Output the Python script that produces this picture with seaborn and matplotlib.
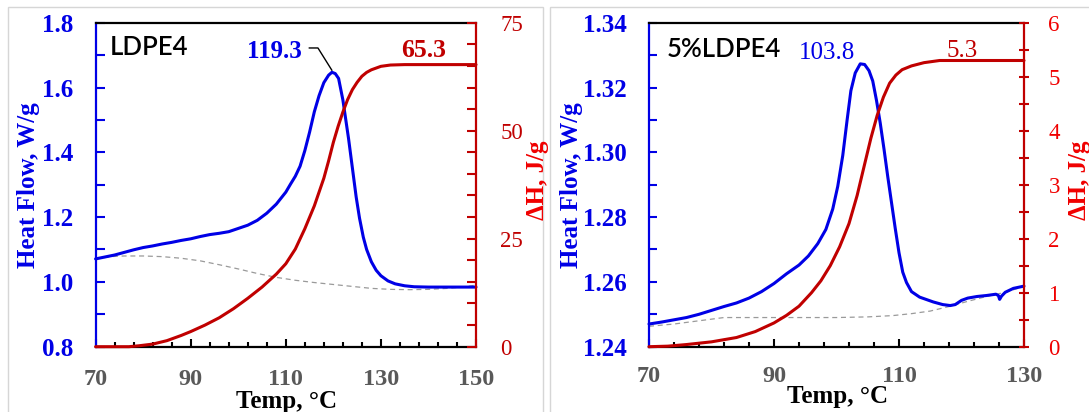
import numpy as np
import pandas as pd
import matplotlib
matplotlib.use("Agg")
import matplotlib.pyplot as plt
import seaborn as sns
from matplotlib.ticker import AutoMinorLocator
from matplotlib.patches import Rectangle
from matplotlib.transforms import Bbox, TransformedBbox

# ---------------- data: left panel (LDPE4) ----------------
l_temp_hf = [70, 72, 74, 76, 78, 80, 82, 84, 86, 88, 90, 92, 94, 96, 98, 100, 102, 104, 106, 108,
             110, 111, 112, 113, 114, 115, 116, 117, 118, 119, 119.7, 120.4, 121.1, 122, 122.5,
             123.2, 124, 124.8, 125.5, 126.3, 127, 128, 129, 130, 131.5, 133, 135, 137, 140, 150]
l_heat_flow = [1.071, 1.077, 1.083, 1.091, 1.099, 1.106, 1.111, 1.117, 1.122, 1.128, 1.133, 1.140,
               1.146, 1.150, 1.155, 1.165, 1.175, 1.190, 1.212, 1.240, 1.277, 1.302, 1.326, 1.357,
               1.405, 1.462, 1.525, 1.575, 1.615, 1.638, 1.647, 1.643, 1.628, 1.562, 1.512, 1.442,
               1.352, 1.262, 1.197, 1.138, 1.100, 1.062, 1.036, 1.019, 1.003, 0.994, 0.988, 0.985,
               0.984, 0.984]
l_temp_dh = [70, 77, 79, 82, 85, 88, 90, 93, 96, 99, 102, 105, 108, 110, 112, 114, 116, 118, 119,
             120, 121, 122, 123, 124, 125, 126, 127, 128, 130, 132, 135, 150]
l_delta_h = [0, 0, 0.2, 0.6, 1.4, 2.6, 3.5, 5.0, 6.7, 8.8, 11.2, 13.8, 16.8, 19.2, 22.6, 27.3, 32.6,
             39.0, 43.0, 47.3, 51.0, 54.3, 57.2, 59.5, 61.2, 62.6, 63.5, 64.1, 64.9, 65.2, 65.3, 65.3]
l_temp_base = [70, 73, 76, 80, 84, 88, 92, 96, 100, 104, 108, 112, 116, 120, 124, 128, 132, 136,
               140, 144, 147, 150]
l_baseline = [1.070, 1.078, 1.080, 1.080, 1.078, 1.073, 1.065, 1.053, 1.040, 1.026, 1.014, 1.005,
              0.998, 0.992, 0.986, 0.980, 0.977, 0.976, 0.977, 0.980, 0.984, 0.990]

# ---------------- data: right panel (5%LDPE4) ----------------
r_temp_hf = [70, 72, 74, 76, 78, 80, 82, 84, 86, 88, 90, 92, 94, 95.5, 97, 98.3, 99.4, 100.2, 101,
             101.7, 102.3, 103, 103.8, 104.5, 105.2, 105.8, 106.4, 107, 107.6, 108.2, 108.8, 109.4,
             110, 110.6, 111.2, 112, 113.3, 115.5, 117, 118.2, 119, 120, 121, 122.5, 124, 125.5,
             125.9, 126.1, 126.4, 127, 128.3, 130]
r_heat_flow = [1.2470, 1.2476, 1.2483, 1.2490, 1.2500, 1.2512, 1.2524, 1.2535, 1.2550, 1.2570,
               1.2595, 1.2625, 1.2652, 1.2680, 1.2718, 1.2762, 1.2825, 1.2895, 1.2990, 1.3100,
               1.3190, 1.3245, 1.3273, 1.3271, 1.3252, 1.3220, 1.3160, 1.3090, 1.3010, 1.2925,
               1.2845, 1.2765, 1.2690, 1.2630, 1.2598, 1.2570, 1.2553, 1.2538, 1.2530, 1.2527,
               1.2530, 1.2543, 1.2550, 1.2555, 1.2558, 1.2562, 1.2558, 1.2546, 1.2556, 1.2568,
               1.2580, 1.2587]
r_temp_dh = [70, 73, 76, 80, 84, 87, 90, 92, 94, 96, 97.5, 99, 100.5, 102, 103.3, 104.5, 105.5,
             106.5, 107.5, 108.5, 109.5, 110.5, 112, 114, 116.5, 130]
r_delta_h = [0, 0.01, 0.04, 0.09, 0.17, 0.28, 0.44, 0.58, 0.75, 1.0, 1.22, 1.50, 1.85, 2.28, 2.80,
             3.38, 3.86, 4.28, 4.62, 4.88, 5.03, 5.13, 5.20, 5.26, 5.30, 5.30]
r_temp_base = [70, 74, 78, 82, 86, 90, 95, 100, 105, 109, 112, 115, 118, 121, 124, 127, 130]
r_baseline = [1.2463, 1.2470, 1.2480, 1.2490, 1.2490, 1.2490, 1.2490, 1.2490, 1.2492, 1.2496,
              1.2502, 1.2510, 1.2524, 1.2540, 1.2555, 1.2568, 1.2586]

# ---------------- ticks / labels ----------------
l_xticks = [70, 90, 110, 130, 150]
l_xticklabels = ["70", "90", "110", "130", "150"]
l_hf_ticks = [0.8, 1.0, 1.2, 1.4, 1.6, 1.8]
l_hf_ticklabels = ["0.8", "1.0", "1.2", "1.4", "1.6", "1.8"]
l_dh_ticks = [0, 25, 50, 75]
l_dh_ticklabels = ["0", "25", "50", "75"]
r_xticks = [70, 90, 110, 130]
r_xticklabels = ["70", "90", "110", "130"]
r_hf_ticks = [1.24, 1.26, 1.28, 1.30, 1.32, 1.34]
r_hf_ticklabels = ["1.24", "1.26", "1.28", "1.30", "1.32", "1.34"]
r_dh_ticks = [0, 1, 2, 3, 4, 5, 6]
r_dh_ticklabels = ["0", "1", "2", "3", "4", "5", "6"]

l_title, r_title = "LDPE4", "5%LDPE4"
l_peak_label, l_dh_label = "119.3", "65.3"
r_peak_label, r_dh_label = "103.8", "5.3"

BLUE = "#0000e6"
DRED = "#c00000"
BRED = "#f00000"
GRAYTXT = "#595959"
SERIF = ["Liberation Serif", "DejaVu Serif"]

sns.set_theme(style="white")
plt.rcParams["font.family"] = SERIF

fig = plt.figure(figsize=(10.89, 4.12), dpi=100)

# panel frames (light grey screenshot borders)
fig.add_artist(Rectangle((7.5 / 1089, -0.01), (543 - 7.5) / 1089, 1.0 - 7 / 412 + 0.01,
                         transform=fig.transFigure, fill=False, ec="#d6d6d6", lw=1))
fig.add_artist(Rectangle((550 / 1089, -0.01), 0.6, 1.0 - 7 / 412 + 0.01,
                         transform=fig.transFigure, fill=False, ec="#d6d6d6", lw=1))


def make_panel(rect, T_hf, hf, T_dh, dh, T_bl, bl, xlim, xt, xtl, hfl, hft, hftl, dhl, dht, dhtl,
               hf_minor, red_tick_color, red_tick_dir, red_pad, blue_len, blue_pad,
               xpad, ylab_x, dhlab_x, xlab_xy):
    ax = fig.add_axes(rect)
    axr = ax.twinx()
    sns.lineplot(x=T_bl, y=bl, ax=ax, color="#9a9a9a", lw=0.9, linestyle=(0, (4, 3)),
                 estimator=None, sort=False)
    sns.lineplot(x=T_hf, y=hf, ax=ax, color=BLUE, lw=2.2, estimator=None, sort=False)
    sns.lineplot(x=T_dh, y=dh, ax=axr, color=DRED, lw=2.2, estimator=None, sort=False)
    for a in (ax, axr):
        for ln in a.get_lines():
            ln.set_clip_on(False)
    ax.set_xlim(*xlim)
    ax.set_ylim(*hfl)
    axr.set_ylim(*dhl)

    # spines
    for s in ("top", "bottom"):
        ax.spines[s].set_color("black")
        ax.spines[s].set_linewidth(1.6)
    ax.spines["left"].set_color(BLUE)
    ax.spines["left"].set_linewidth(1.6)
    ax.spines["right"].set_visible(False)
    for s in ("left", "top", "bottom"):
        axr.spines[s].set_visible(False)
    axr.spines["right"].set_color(DRED)
    axr.spines["right"].set_linewidth(1.6)

    # x ticks
    ax.set_xticks(xt, labels=xtl, fontsize=17.5, fontweight="bold", color=GRAYTXT)
    ax.xaxis.set_minor_locator(AutoMinorLocator(5))
    ax.tick_params(axis="x", which="major", direction="in", length=5.5, width=1.5,
                   color="black", pad=xpad, bottom=True, top=False)
    ax.tick_params(axis="x", which="minor", direction="in", length=3.5, width=1.5,
                   color="black", bottom=True, top=False)
    # blue y ticks
    ax.set_yticks(hft, labels=hftl, fontsize=18, fontweight="bold", color=BLUE)
    ax.yaxis.set_minor_locator(AutoMinorLocator(hf_minor))
    ax.tick_params(axis="y", which="both", direction="in", length=blue_len, width=1.5,
                   color=BLUE, pad=blue_pad, left=True, right=False)
    # red y ticks
    axr.set_yticks(dht, labels=dhtl, fontsize=16.5, color=red_tick_color)
    axr.yaxis.set_minor_locator(AutoMinorLocator(5 if dht[-1] == 75 else 2))
    axr.tick_params(axis="y", which="both", direction=red_tick_dir,
                    length=6.3 if red_tick_dir == "in" else 7.5, width=1.5,
                    color=DRED, pad=red_pad, right=True, left=False)

    # axis labels
    ax.set_xlabel("Temp, °C", fontsize=18, fontweight="bold", color="black", va="baseline")
    ax.xaxis.set_label_coords(*xlab_xy)
    ax.set_ylabel("Heat Flow, W/g", fontsize=18, fontweight="bold", color=BLUE,
                  va="baseline", ha="center")
    ax.yaxis.set_label_coords(ylab_x, 0.50)
    axr.set_ylabel("ΔH, J/g", fontsize=18, fontweight="bold", color=BRED,
                   va="baseline", ha="center", rotation=90)
    axr.yaxis.set_label_coords(dhlab_x, 0.515)
    ax.set_zorder(1)
    axr.set_zorder(2)
    axr.patch.set_visible(False)
    return ax, axr


axL, axLr = make_panel([95.6 / 1089, 0.1585, 380.4 / 1089, 0.7864],
                       l_temp_hf, l_heat_flow, l_temp_dh, l_delta_h, l_temp_base, l_baseline,
                       (70, 150), l_xticks, l_xticklabels, (0.8, 1.8), l_hf_ticks, l_hf_ticklabels,
                       (0, 75), l_dh_ticks, l_dh_ticklabels, 2, DRED, "in", 17.5, 6.3, 16,
                       16, -0.159, 1.179, (0.503, -0.189))
axR, axRr = make_panel([649 / 1089, 0.1585, 375 / 1089, 0.7864],
                       r_temp_hf, r_heat_flow, r_temp_dh, r_delta_h, r_temp_base, r_baseline,
                       (70, 130), r_xticks, r_xticklabels, (1.24, 1.34), r_hf_ticks, r_hf_ticklabels,
                       (0, 6), r_dh_ticks, r_dh_ticklabels, 2, BRED, "inout", 13.8, 5.5, 16,
                       14, -0.189, 1.165, (0.504, -0.174))

# the left panel's right label is cut by the panel border in the screenshot
lbl = axLr.yaxis.label
lbl.set_clip_on(True)
lbl.set_clip_box(TransformedBbox(Bbox([[0, 0], [549 / 1089, 1]]), fig.transFigure))

# titles inside panels
axL.text(0.036, 0.900, l_title, transform=axL.transAxes, fontsize=18.5,
         family=["Lato", "DejaVu Sans"], fontweight="semibold", color="black", va="baseline")
axR.text(0.047, 0.895, r_title, transform=axR.transAxes, fontsize=18.5,
         family=["Lato", "DejaVu Sans"], fontweight="semibold", color="black", va="baseline")

# left annotations
pk = int(np.argmax(l_heat_flow))
axL.text(107.6, 1.690, l_peak_label, fontsize=18, fontweight="bold", color=BLUE,
         ha="center", va="baseline")
axL.annotate("", xy=(l_temp_hf[pk], l_heat_flow[pk] + 0.006), xytext=(114.9, 1.722),
             arrowprops=dict(arrowstyle="-", color="black", lw=1,
                             connectionstyle="angle,angleA=0,angleB=122,rad=0",
                             shrinkA=0, shrinkB=0))
axLr.text(139.05, 67.0, l_dh_label, fontsize=18.5, fontweight="bold", color=DRED,
          ha="center", va="baseline")

# right annotations
axR.text(98.48, 1.3287, r_peak_label, fontsize=18, color=BLUE, ha="center", va="baseline")
axRr.text(120.08, 5.36, r_dh_label, fontsize=18, color=DRED, ha="center", va="baseline")

fig.savefig("out.png", dpi=100)
